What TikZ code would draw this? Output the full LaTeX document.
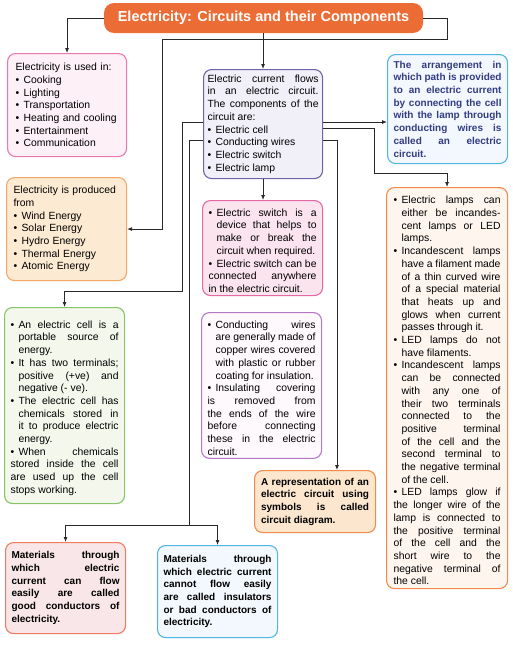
\documentclass[tikz,border=0pt]{standalone}
\usepackage{fontspec}
\setmainfont{Liberation Sans}
\usetikzlibrary{arrows.meta}
\definecolor{titleorange}{RGB}{236,108,54}
\definecolor{pinkline}{RGB}{236,120,176}
\definecolor{pinkfill}{RGB}{253,240,246}
\definecolor{peachline}{RGB}{243,166,106}
\definecolor{peachfill}{RGB}{253,234,210}
\definecolor{greenline}{RGB}{134,196,104}
\definecolor{greenfill}{RGB}{244,248,236}
\definecolor{purpleline}{RGB}{108,100,168}
\definecolor{purplefill}{RGB}{241,240,249}
\definecolor{cyanline}{RGB}{80,182,228}
\definecolor{cyanfill}{RGB}{242,248,253}
\definecolor{switchline}{RGB}{228,104,164}
\definecolor{switchfill}{RGB}{251,228,238}
\definecolor{wireline}{RGB}{180,120,196}
\definecolor{wirefill}{RGB}{253,249,252}
\definecolor{lampline}{RGB}{242,138,76}
\definecolor{lampfill}{RGB}{254,245,238}
\definecolor{diagfill}{RGB}{252,230,205}
\definecolor{redline}{RGB}{240,122,96}
\definecolor{redfill}{RGB}{249,230,232}
\definecolor{navytext}{RGB}{52,60,130}
\definecolor{wire}{RGB}{40,40,40}
\hyphenpenalty=10000
\tolerance=10000
\hbadness=10000
\newcommand\bpoint{\par\hangindent=8pt\hangafter=1\noindent\hbox to 8pt{\textbullet\hfil}}

\begin{document}
\begin{tikzpicture}[x=1pt, y=-1pt,
    headbox/.style={fill=titleorange, text=white, rounded corners=10pt, minimum width=319pt, minimum height=30pt, font=\fontsize{14.5}{16}\selectfont\bfseries},
    card/.style={draw, rounded corners=8pt, line width=1.1pt, anchor=north west, minimum width=120pt, text width=108pt, inner xsep=6pt, inner ysep=3pt, align=justify, font=\fontsize{10.4}{12.7}\selectfont},
    boldcard/.style={card, font=\fontsize{10}{12.7}\selectfont\bfseries},
    link/.style={line width=0.8pt, draw=wire},
    arr/.style={link, -{Latex[length=5pt,width=4pt]}}]
  \useasboundingbox (0,0) rectangle (513,645);

  \node[headbox] (title) at (263.5,18) {Electricity: Circuits and their Components};

  % left column
  \node[card, draw=pinkline, fill=pinkfill, align=left, minimum width=119pt, text width=103pt, inner xsep=8pt, minimum height=103pt] (uses) at (7,53)
    {Electricity is used in:\bpoint Cooking\bpoint Lighting\bpoint Transportation\bpoint Heating and cooling\bpoint Entertainment\bpoint Communication};
  \node[card, draw=peachline, fill=peachfill, align=left, text width=106pt, inner xsep=7pt, minimum height=103pt] (sources) at (6,177)
    {Electricity is produced\newline from\bpoint Wind Energy\bpoint Solar Energy\bpoint Hydro Energy\bpoint Thermal Energy\bpoint Atomic Energy};
  \node[card, draw=greenline, fill=greenfill, minimum height=196pt] (cell) at (4,307)
    {\bpoint An electric cell is a\linebreak portable source of\linebreak energy.\bpoint It has two terminals;\linebreak positive (+ve) and\linebreak negative (- ve).\bpoint The electric cell has\linebreak chemicals stored in\linebreak it to produce electric\linebreak energy.\bpoint When chemicals\linebreak stored inside the cell\linebreak are used up the cell\linebreak stops working.};
  \node[boldcard, draw=redline, fill=redfill, minimum height=91pt] (conductors) at (5,542)
    {Materials through\linebreak which electric\linebreak current can flow\linebreak easily are called\linebreak good conductors of\linebreak electricity.};

  % middle column
  \node[card, draw=purpleline, fill=purplefill, minimum width=119pt, text width=111pt, inner xsep=4pt, minimum height=109pt] (components) at (203,69)
    {Electric current flows\linebreak in an electric circuit.\linebreak The components of the\linebreak circuit are:\bpoint Electric cell\bpoint Conducting wires\bpoint Electric switch\bpoint Electric lamp};
  \node[card, draw=switchline, fill=switchfill, minimum height=95pt] (switch) at (202,200)
    {\bpoint Electric switch is a\linebreak device that helps to\linebreak make or break the\linebreak circuit when required.\bpoint Electric switch can be\linebreak connected anywhere\linebreak in the electric circuit.};
  \node[card, draw=wireline, fill=wirefill, minimum width=119pt, minimum height=143pt] (wires) at (201,312)
    {\bpoint Conducting wires\linebreak are generally made of\linebreak copper wires covered\linebreak with plastic or rubber\linebreak coating for insulation.\bpoint Insulating covering\linebreak is removed from\linebreak the ends of the wire\linebreak before connecting\linebreak these in the electric\linebreak circuit.};
  \node[boldcard, draw=lampline, fill=diagfill, minimum width=121pt, minimum height=62pt] (diagram) at (254,470)
    {A representation of an\linebreak electric circuit using\linebreak symbols is called\linebreak circuit diagram.};
  \node[boldcard, draw=cyanline, fill=cyanfill, minimum height=92pt] (insulators) at (157,545)
    {Materials through\linebreak which electric current\linebreak cannot flow easily\linebreak are called insulators\linebreak or bad conductors of\linebreak electricity.};

  % right column
  \node[boldcard, draw=cyanline, fill=cyanfill, text=navytext, minimum height=109pt] (circuitdef) at (387,54)
    {The arrangement in\linebreak which path is provided\linebreak to an electric current\linebreak by connecting the cell\linebreak with the lamp through\linebreak conducting wires is\linebreak called an electric\linebreak circuit.};
  \node[card, draw=lampline, fill=lampfill, minimum width=121pt, text width=107pt, minimum height=401pt] (lamps) at (386,187)
    {\bpoint Electric lamps can\linebreak either be incandes-\linebreak cent lamps or LED\linebreak lamps.\bpoint Incandescent lamps\linebreak have a filament made\linebreak of a thin curved wire\linebreak of a special material\linebreak that heats up and\linebreak glows when current\linebreak passes through it.\bpoint LED lamps do not\linebreak have filaments.\bpoint Incandescent lamps\linebreak can be connected\linebreak with any one of\linebreak their two terminals\linebreak connected to the\linebreak positive terminal\linebreak of the cell and the\linebreak second terminal to\linebreak the negative terminal\linebreak of the cell.\bpoint LED lamps glow if\linebreak the longer wire of the\linebreak lamp is connected to\linebreak the positive terminal\linebreak of the cell and the\linebreak short wire to the\linebreak negative terminal of\linebreak the cell.};

  % connectors
  \coordinate (rowA) at (0,122);
  \coordinate (rowC) at (0,128);
  \coordinate (rowB) at (0,140);
  \coordinate (rjoin) at (447,39);
  \coordinate (ljoin) at (162,39);
  \coordinate (cellturn) at (182,291);
  \coordinate (matturn) at (189,525);
  \coordinate (lampturn) at (374,173);
  \coordinate (diagturn) at (337,140);

  \draw[arr] (title.west) -| (uses.north);
  \draw[arr] (title.south -| components.north) -- (components.north);
  \draw[arr] (title.east) -| (rjoin) -- (ljoin) |- (sources.east);
  \draw[arr] (components.west |- rowA) -| (cellturn) -| (cell.north);
  \draw[link] (components.west |- rowB) -| (matturn);
  \draw[arr] (matturn) -| (conductors.north);
  \draw[arr] (matturn) -| (insulators.north);
  \draw[arr] (components.east |- rowA) -- (circuitdef.west |- rowA);
  \draw[arr] (components.east |- rowC) -| (lampturn) -| (lamps.north);
  \draw[arr] (components.east |- rowB) -- (diagturn) -- (diagturn |- diagram.north);
  \draw[arr] (components.south) -- (components.south |- switch.north);
\end{tikzpicture}
\end{document}
